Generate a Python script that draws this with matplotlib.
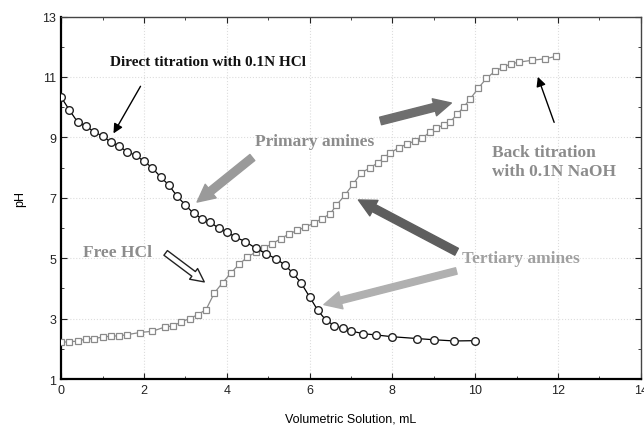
import matplotlib.pyplot as plt
import numpy as np

# Valoración directa con HCl 0.1N (círculos)
vol_directa = [0.0, 0.2, 0.4, 0.6, 0.8, 1.0, 1.2, 1.4, 1.6, 1.8, 2.0, 2.2, 2.4, 2.6,
               2.8, 3.0, 3.2, 3.4, 3.6, 3.8, 4.0, 4.2, 4.45, 4.7, 4.95, 5.2, 5.4,
               5.6, 5.8, 6.0, 6.2, 6.4, 6.6, 6.8, 7.0, 7.3, 7.6, 8.0, 8.6, 9.0,
               9.5, 10.0]
ph_directa = [10.33, 9.90, 9.50, 9.37, 9.18, 9.04, 8.84, 8.70, 8.52, 8.40, 8.21, 7.99,
              7.69, 7.42, 7.05, 6.76, 6.48, 6.31, 6.20, 5.99, 5.88, 5.70, 5.55, 5.33,
              5.15, 4.97, 4.78, 4.50, 4.17, 3.72, 3.27, 2.94, 2.77, 2.68, 2.59, 2.50,
              2.46, 2.40, 2.34, 2.30, 2.26, 2.27]

# Retrovaloración con NaOH 0.1N (cuadrados)
vol_retro = [0.0, 0.2, 0.4, 0.6, 0.8, 1.0, 1.2, 1.4, 1.6, 1.9, 2.2, 2.5, 2.7, 2.9,
             3.1, 3.3, 3.5, 3.7, 3.9, 4.1, 4.3, 4.5, 4.7, 4.9, 5.1, 5.3, 5.5, 5.7,
             5.9, 6.1, 6.3, 6.5, 6.65, 6.85, 7.05, 7.25, 7.45, 7.65, 7.8, 7.95,
             8.15, 8.35, 8.55, 8.72, 8.9, 9.05, 9.25, 9.4, 9.57, 9.73, 9.88, 10.07,
             10.27, 10.47, 10.67, 10.86, 11.06, 11.37, 11.68, 11.96]
ph_retro = [2.21, 2.24, 2.25, 2.33, 2.34, 2.39, 2.42, 2.43, 2.47, 2.54, 2.58, 2.72,
            2.76, 2.89, 3.00, 3.13, 3.30, 3.85, 4.19, 4.51, 4.80, 5.04, 5.20, 5.34,
            5.48, 5.64, 5.80, 5.92, 6.03, 6.16, 6.31, 6.47, 6.76, 7.08, 7.45, 7.83,
            7.98, 8.16, 8.33, 8.49, 8.65, 8.78, 8.88, 8.97, 9.17, 9.30, 9.41, 9.52,
            9.77, 10.02, 10.27, 10.62, 10.95, 11.18, 11.32, 11.43, 11.49, 11.55,
            11.60, 11.68]

fig = plt.figure(figsize=(6.44, 4.27), dpi=100)
ax = fig.add_axes([0.095, 0.11, 0.9, 0.849])

ax.plot(vol_retro, ph_retro, color='#8a8a8a', linewidth=0.9, marker='s',
        markersize=5, markerfacecolor='white', markeredgecolor='#8a8a8a',
        markeredgewidth=0.9, zorder=3)
ax.plot(vol_directa, ph_directa, color='black', linewidth=0.9, marker='o',
        markersize=5.5, markerfacecolor='white', markeredgecolor='#222222',
        markeredgewidth=1.0, zorder=4)

ax.set_xlim(0, 14)
ax.set_ylim(1, 13)
ax.set_xticks(np.arange(0, 15, 2))
ax.set_xticks(np.arange(0, 15, 1), minor=True)
ax.set_yticks(np.arange(1, 14, 2))
ax.set_yticks(np.arange(1, 14, 1), minor=True)
ax.tick_params(which='both', direction='in', top=True, right=True,
               labelsize=9, colors='#222222')
ax.tick_params(which='major', length=4)
ax.tick_params(which='minor', length=2.5)
for lab in ax.get_xticklabels() + ax.get_yticklabels():
    lab.set_fontfamily('Liberation Sans')
ax.grid(True, which='major', color='#dddddd', linestyle=':', linewidth=0.8)

ax.spines['left'].set_linewidth(1.6)
ax.spines['bottom'].set_linewidth(1.6)
ax.spines['top'].set_linewidth(1.0)
ax.spines['right'].set_linewidth(1.0)
ax.spines['top'].set_color('#444444')
ax.spines['right'].set_color('#444444')

ax.set_xlabel("Volumetric Solution, mL", fontfamily='Liberation Sans', fontsize=9,
              labelpad=12)
ax.set_ylabel("pH", fontfamily='Liberation Sans', fontsize=9, labelpad=12)

serif = 'Liberation Serif'
gris_txt = '#8c8c8c'
flecha_gruesa = 'simple,head_length=0.9,head_width=0.9,tail_width=0.4'

# Textos y flechas
ax.text(1.18, 11.5, "Direct titration with 0.1N HCl", fontfamily=serif,
        fontweight='bold', fontsize=11, color='#111111', va='center')
ax.annotate("", xy=(1.23, 9.05), xytext=(1.95, 10.77),
            arrowprops=dict(arrowstyle='-|>', color='black', lw=1.0,
                            mutation_scale=14))

ax.text(4.67, 8.88, "Primary amines", fontfamily=serif, fontweight='bold',
        fontsize=12.5, color=gris_txt, va='center')
ax.annotate("", xy=(3.23, 6.80), xytext=(4.67, 8.39),
            arrowprops=dict(arrowstyle=flecha_gruesa,
                            fc='#9a9a9a', ec='#9a9a9a', mutation_scale=14))

ax.annotate("", xy=(9.49, 10.16), xytext=(7.65, 9.52),
            arrowprops=dict(arrowstyle=flecha_gruesa,
                            fc='#6e6e6e', ec='#6e6e6e', mutation_scale=14))

ax.text(10.41, 8.19, "Back titration\nwith 0.1N NaOH", fontfamily=serif,
        fontweight='bold', fontsize=12.5, color=gris_txt, va='center',
        linespacing=1.25)
ax.annotate("", xy=(11.49, 11.09), xytext=(11.93, 9.41),
            arrowprops=dict(arrowstyle='-|>', color='black', lw=1.0,
                            mutation_scale=14))

ax.text(9.69, 5.0, "Tertiary amines", fontfamily=serif, fontweight='bold',
        fontsize=12.5, color='#a0a0a0', va='center')
ax.annotate("", xy=(7.12, 6.97), xytext=(9.61, 5.17),
            arrowprops=dict(arrowstyle=flecha_gruesa,
                            fc='#5e5e5e', ec='#5e5e5e', mutation_scale=14))
ax.annotate("", xy=(6.28, 3.44), xytext=(9.61, 4.60),
            arrowprops=dict(arrowstyle='simple,head_length=0.9,head_width=0.9,tail_width=0.34',
                            fc='#b0b0b0', ec='#b0b0b0', mutation_scale=14))

ax.text(0.53, 5.21, "Free HCl", fontfamily=serif, fontweight='bold',
        fontsize=12.5, color=gris_txt, va='center')
ax.annotate("", xy=(3.51, 4.16), xytext=(2.47, 5.23),
            arrowprops=dict(arrowstyle='simple,head_length=0.8,head_width=0.8,tail_width=0.35',
                            fc='white', ec='#222222', lw=1.0, mutation_scale=12))

fig.savefig("out.png", dpi=100)
